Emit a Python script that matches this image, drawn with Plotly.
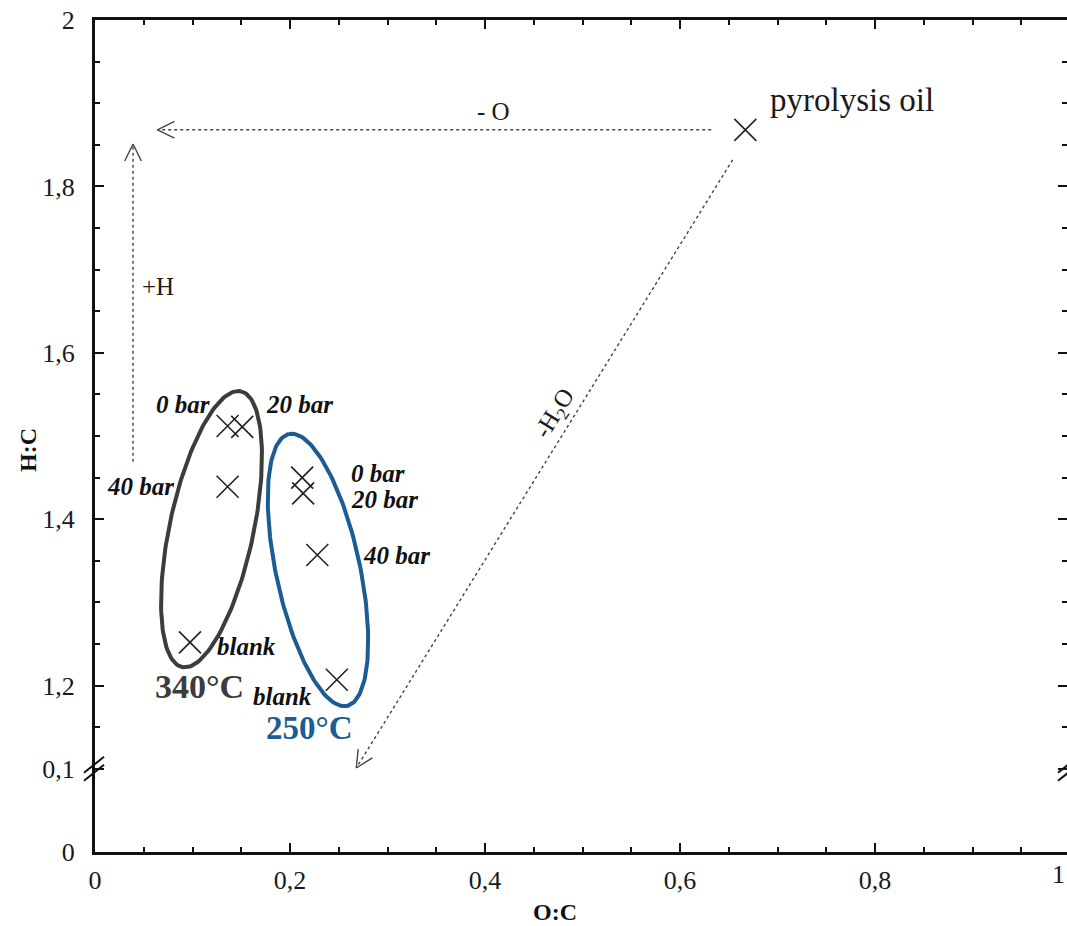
import math
import plotly.graph_objects as go

# ---------------- data (O:C, H:C) ----------------
labels_340 = ["0 bar", "20 bar", "40 bar", "blank"]
oc_340 = [0.136, 0.151, 0.136, 0.0974]
hc_340 = [1.512, 1.511, 1.439, 1.252]

labels_250 = ["0 bar", "20 bar", "40 bar", "blank"]
oc_250 = [0.2125, 0.2135, 0.228, 0.248]
hc_250 = [1.450, 1.431, 1.357, 1.207]

oil_label = "pyrolysis oil"
oc_oil = [0.667]
hc_oil = [1.868]

x_tickvals = [0, 0.2, 0.4, 0.6, 0.8]
x_ticktext = ["0", "0,2", "0,4", "0,6", "0,8"]
y_tickvals_hc = [0, 0.1, 1.2, 1.4, 1.6, 1.8, 2.0]
y_ticktext = ["0", "0,1", "1,2", "1,4", "1,6", "1,8", "2"]

# reaction-direction arrows: (label, start O:C, start H:C, end O:C, end H:C)
arrows = [
    ("- O", 0.632, 1.868, 0.064, 1.868),
    ("+H", 0.039, 1.469, 0.039, 1.851),
    ("-H<sub>2</sub>O", 0.654, 1.832, 0.268, 0.101),
]

# ---------------- axis break transform ----------------
BREAK = 1.0  # values >= 1.15 are shifted down by this amount


def yt(v):
    return v - BREAK if v >= 1.15 else v


# pixel geometry (for decorations)
L, R, T, B = 95, 0, 20, 74
W, H = 1067, 926
PW = W - L - R
PH = H - T - B
XMAX = PW / 975.0
YMAX = 1.0


def to_px(x, y):
    return L + x / XMAX * PW, T + (YMAX - y) / YMAX * PH


def from_px(px, py):
    return (px - L) / PW * XMAX, YMAX - (py - T) / PH * YMAX


SERIF = "Liberation Serif"
DARK = "#3c3c3c"
BLUE = "#1d5b94"
INK = "#1a1a1a"

fig = go.Figure()


def ellipse(cx, cy, a, b, tilt_deg, color):
    th = math.radians(tilt_deg)
    pcx, pcy = to_px(cx, yt(cy))
    ux, uy = math.sin(th), -math.cos(th)
    vx, vy = math.cos(th), math.sin(th)
    xs, ys = [], []
    for i in range(181):
        t = 2 * math.pi * i / 180
        px = pcx + a * math.cos(t) * ux + b * math.sin(t) * vx
        py = pcy + a * math.cos(t) * uy + b * math.sin(t) * vy
        x, y = from_px(px, py)
        xs.append(x)
        ys.append(y)
    fig.add_trace(go.Scatter(x=xs, y=ys, mode="lines", line=dict(color=color, width=4),
                             hoverinfo="skip", showlegend=False))


ellipse(0.1195, 1.388, 141, 42, 12, DARK)
ellipse(0.2287, 1.339, 139, 42, -12, BLUE)

marker = dict(symbol="x-thin-open", size=22, color="#222222", line=dict(width=1.6, color="#222222"))
for xs, ys, name in [(oc_340, hc_340, "340°C"), (oc_250, hc_250, "250°C"), (oc_oil, hc_oil, oil_label)]:
    fig.add_trace(go.Scatter(x=xs, y=[yt(v) for v in ys], mode="markers", marker=marker,
                             name=name, showlegend=False))

# ---------------- arrows (dotted, open heads) ----------------
shapes = []
annotations = []
for (lab, x0, y0, x1, y1) in arrows:
    X0, Y0 = x0, yt(y0)
    X1, Y1 = x1, yt(y1)
    shapes.append(dict(type="line", x0=X0, y0=Y0, x1=X1, y1=Y1, xref="x", yref="y",
                       line=dict(color="#444444", width=1.4, dash="dot")))
    p0 = to_px(X0, Y0)
    p1 = to_px(X1, Y1)
    ang = math.atan2(p0[1] - p1[1], p0[0] - p1[0])
    for s in (1, -1):
        a2 = ang + s * math.radians(26)
        hx, hy = p1[0] + 19 * math.cos(a2), p1[1] + 19 * math.sin(a2)
        hxd, hyd = from_px(hx, hy)
        shapes.append(dict(type="line", x0=X1, y0=Y1, x1=hxd, y1=hyd, xref="x", yref="y",
                           line=dict(color="#444444", width=1.4)))

# arrow labels
afont = dict(family=SERIF, size=25, color=INK)
annotations.append(dict(x=0.409, y=yt(arrows[0][2]), xref="x", yref="y", text=arrows[0][0],
                        showarrow=False, yshift=18, font=afont))
annotations.append(dict(x=arrows[1][1], y=yt(1.68), xref="x", yref="y", text=arrows[1][0],
                        showarrow=False, xshift=25, font=afont))
annotations.append(dict(x=0.472, y=yt(1.526), xref="x", yref="y", text=arrows[2][0],
                        showarrow=False, textangle=-58, font=afont))

# ---------------- point labels ----------------
bi = dict(family=SERIF, size=25, color="#111111")
off_340 = [(-45, 22), (57, 22), (-87, 0), (57, -4)]
off_250 = [(76, 4), (81, -6), (79, -1), (-54, -17)]
for xs, ys, labs, offs in [(oc_340, hc_340, labels_340, off_340), (oc_250, hc_250, labels_250, off_250)]:
    for x, y, lab, (dx, dy) in zip(xs, ys, labs, offs):
        annotations.append(dict(x=x, y=yt(y), xref="x", yref="y", text=f"<b><i>{lab}</i></b>",
                                showarrow=False, xshift=dx, yshift=dy, font=bi))

annotations.append(dict(x=oc_340[3], y=yt(hc_340[3]), xref="x", yref="y", text="<b>340°C</b>",
                        showarrow=False, xshift=10, yshift=-44,
                        font=dict(family=SERIF, size=34, color=DARK)))
annotations.append(dict(x=oc_250[3], y=yt(hc_250[3]), xref="x", yref="y", text="<b>250°C</b>",
                        showarrow=False, xshift=-27, yshift=-48,
                        font=dict(family=SERIF, size=33, color=BLUE)))
annotations.append(dict(x=oc_oil[0], y=yt(hc_oil[0]), xref="x", yref="y", text=oil_label,
                        showarrow=False, xanchor="left", xshift=23, yshift=30,
                        font=dict(family=SERIF, size=33, color=INK)))

# tick label "1" at the right edge (its tick lies just past the visible plot edge)
annotations.append(dict(x=1.0, y=0, xref="paper", yref="paper", text="1", showarrow=False,
                        xanchor="right", yanchor="top", xshift=0, yshift=-6,
                        font=dict(family=SERIF, size=26, color=INK)))

# axis titles placed like the reference
annotations.append(dict(x=(555 - L) / PW, y=-(912 - (H - B)) / PH, xref="paper", yref="paper",
                        text="<b>O:C</b>", showarrow=False, xanchor="center", yanchor="middle",
                        font=dict(family=SERIF, size=24, color="#111111")))
annotations.append(dict(x=-(L - 28) / PW, y=(H - B - 450) / PH, xref="paper", yref="paper",
                        text="<b>H:C</b>", showarrow=False, textangle=-90,
                        xanchor="center", yanchor="middle",
                        font=dict(family=SERIF, size=24, color="#111111")))

# axis-break marks
for bx in (L - 1, W + 1):
    for dyb in (4, -4):
        cx, cy = bx, to_px(0, 0.1)[1] + dyb
        shapes.append(dict(type="line", xref="paper", yref="paper",
                           x0=(cx - 10 - L) / PW, y0=(H - B - (cy + 8)) / PH,
                           x1=(cx + 10 - L) / PW, y1=(H - B - (cy - 8)) / PH,
                           line=dict(color="#111111", width=2)))

y_tickvals = [yt(v) for v in y_tickvals_hc]
minor_y = [0.15] + [round(0.25 + 0.05 * i, 2) for i in range(15)]
minor_y = [v for v in minor_y if all(abs(v - t) > 1e-6 for t in y_tickvals)]
minor_x = [round(0.05 * i, 2) for i in range(20) if i % 4 != 0]

axfont = dict(family=SERIF, size=26, color=INK)
fig.update_layout(
    width=W, height=H,
    margin=dict(l=L, r=R, t=T, b=B),
    plot_bgcolor="white", paper_bgcolor="white",
    showlegend=False,
    shapes=shapes,
    annotations=annotations,
    xaxis=dict(range=[0, XMAX], tickvals=x_tickvals, ticktext=x_ticktext, ticks="inside",
               ticklen=9, tickwidth=2, tickcolor="#111111", showline=True, linewidth=3,
               linecolor="#111111", mirror="ticks", showgrid=False, zeroline=False,
               tickfont=axfont, ticklabelstandoff=3,
               minor=dict(tickvals=minor_x, ticks="inside", ticklen=5, tickwidth=1.5,
                          tickcolor="#111111")),
    yaxis=dict(range=[0, YMAX], tickvals=y_tickvals, ticktext=y_ticktext, ticks="inside",
               ticklen=9, tickwidth=2, tickcolor="#111111", showline=True, linewidth=3,
               linecolor="#111111", mirror=False, showgrid=False, zeroline=False,
               tickfont=axfont, ticklabelstandoff=12,
               minor=dict(tickvals=minor_y, ticks="inside", ticklen=5, tickwidth=1.5,
                          tickcolor="#111111")),
    yaxis2=dict(range=[0, YMAX], overlaying="y", side="right", anchor="x", tickvals=y_tickvals,
                ticks="inside", ticklen=9, tickwidth=2, tickcolor="#111111", showline=False,
                showticklabels=False, showgrid=False, zeroline=False,
                minor=dict(tickvals=minor_y, ticks="inside", ticklen=5, tickwidth=1.5,
                           tickcolor="#111111")),
)
fig.add_trace(go.Scatter(x=[None], y=[None], yaxis="y2", showlegend=False, hoverinfo="skip"))

fig.write_html("out.html", config={"displayModeBar": False},
               post_script="document.body.style.margin='0px';")
